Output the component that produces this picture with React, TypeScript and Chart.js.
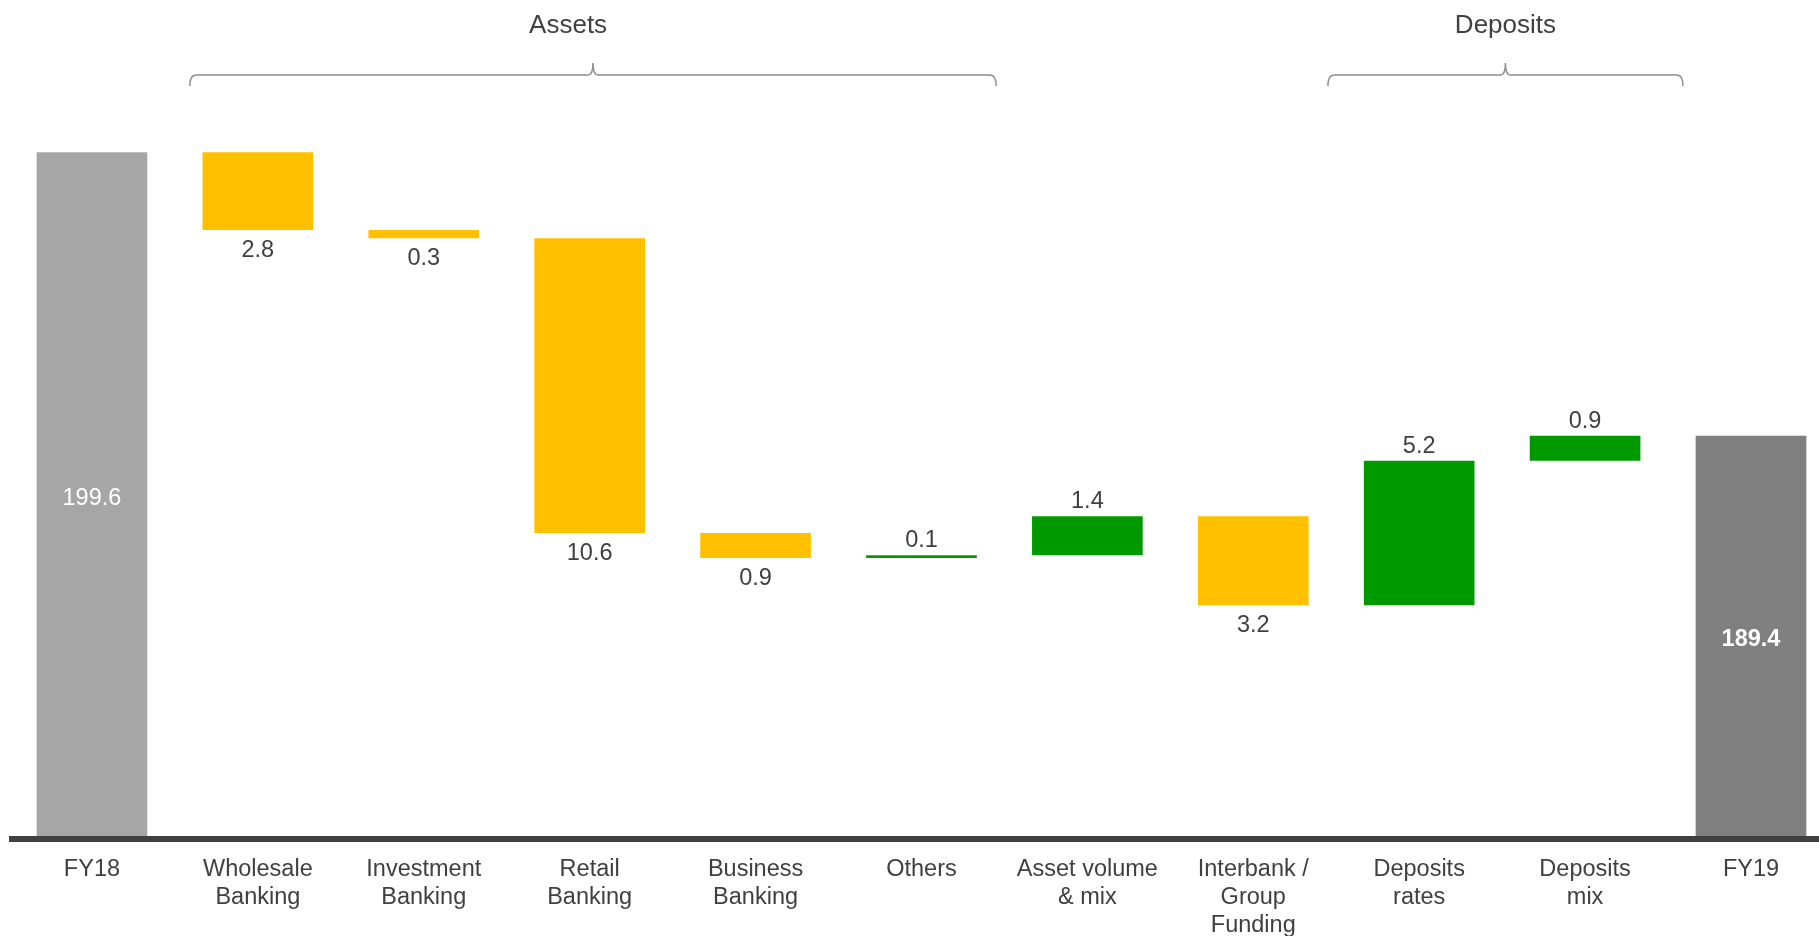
import React, { useEffect, useRef } from 'react';
import { Chart, registerables } from 'chart.js';

Chart.register(...registerables);

const categories: string[][] = [
  ['FY18'],
  ['Wholesale', 'Banking'],
  ['Investment', 'Banking'],
  ['Retail', 'Banking'],
  ['Business', 'Banking'],
  ['Others'],
  ['Asset volume', '& mix'],
  ['Interbank /', 'Group', 'Funding'],
  ['Deposits', 'rates'],
  ['Deposits', 'mix'],
  ['FY19'],
];
const startTotal = 199.6;
const endTotal = 189.4;
const changes = [-2.8, -0.3, -10.6, -0.9, 0.1, 1.4, -3.2, 5.2, 0.9];
const groupLabels = ['Assets', 'Deposits'];
const groupFirst = [1, 8];
const groupLast = [5, 9];
const axisMin = 175;
const axisMax = 201.62;

const FONT = '"Liberation Sans", Arial, sans-serif';
const TEXT = '#404040';

function buildRanges(): number[][] {
  const out: number[][] = [[axisMin, startTotal]];
  let run = startTotal;
  changes.forEach((d) => {
    const next = Math.round((run + d) * 10) / 10;
    out.push([run, next]);
    run = next;
  });
  out.push([axisMin, endTotal]);
  return out;
}

const labelsPlugin = {
  id: 'wfLabels',
  afterDatasetsDraw(chart: any) {
    const ctx = chart.ctx;
    const meta = chart.getDatasetMeta(0);
    const area = chart.chartArea;
    ctx.save();
    // axis line
    ctx.fillStyle = '#404040';
    ctx.fillRect(area.left, area.bottom, area.right - area.left, 6);
    ctx.textAlign = 'center';
    meta.data.forEach((el: any, i: number) => {
      const top = Math.min(el.y, el.base);
      const bottom = Math.max(el.y, el.base);
      if (i === 0 || i === meta.data.length - 1) {
        const v = i === 0 ? startTotal : endTotal;
        ctx.fillStyle = '#ffffff';
        ctx.font = `${i === 0 ? 'normal' : 'bold'} 23.5px ${FONT}`;
        ctx.textBaseline = 'middle';
        ctx.fillText(v.toFixed(1), el.x, (top + bottom) / 2 + 4);
      } else {
        const d = changes[i - 1];
        ctx.fillStyle = TEXT;
        ctx.font = `23.5px ${FONT}`;
        ctx.textBaseline = 'alphabetic';
        if (d < 0) ctx.fillText(Math.abs(d).toFixed(1), el.x, bottom + 27);
        else ctx.fillText(Math.abs(d).toFixed(1), el.x, top - 8);
      }
    });
    ctx.restore();
  },
};

const bracketPlugin = {
  id: 'brackets',
  afterDraw(chart: any) {
    const ctx = chart.ctx;
    const xs = chart.scales.x;
    const pads = [[0.41, 0.45], [0.55, 0.59]];
    const textShift = [-0.15, 0];
    ctx.save();
    groupLabels.forEach((lab, g) => {
      const x0 = xs.getPixelForValue(groupFirst[g] - pads[g][0]);
      const x1 = xs.getPixelForValue(groupLast[g] + pads[g][1]);
      const xc = (x0 + x1) / 2;
      const yl = 75;
      const yh = 86;
      const yp = 63;
      ctx.strokeStyle = '#8c8c8c';
      ctx.lineWidth = 1.5;
      ctx.beginPath();
      ctx.moveTo(x0, yh);
      ctx.quadraticCurveTo(x0, yl, x0 + 6, yl);
      ctx.lineTo(xc - 5, yl);
      ctx.quadraticCurveTo(xc, yl, xc, yp);
      ctx.quadraticCurveTo(xc, yl, xc + 5, yl);
      ctx.lineTo(x1 - 6, yl);
      ctx.quadraticCurveTo(x1, yl, x1, yh);
      ctx.stroke();
      ctx.fillStyle = TEXT;
      ctx.font = `26px ${FONT}`;
      ctx.textAlign = 'center';
      ctx.textBaseline = 'alphabetic';
      const tx = xs.getPixelForValue((groupFirst[g] - pads[g][0] + groupLast[g] + pads[g][1]) / 2 + textShift[g]);
      ctx.fillText(lab, tx, 33);
    });
    ctx.restore();
  },
};

export default function App() {
  const ref = useRef<HTMLCanvasElement | null>(null);
  useEffect(() => {
    if (!ref.current) return;
    const ranges = buildRanges();
    const colors = ranges.map((_, i) => {
      if (i === 0) return '#A6A6A6';
      if (i === ranges.length - 1) return '#808080';
      return changes[i - 1] < 0 ? '#FFC000' : '#009A00';
    });
    const chart = new Chart(ref.current, {
      type: 'bar',
      data: {
        datasets: [
          {
            data: ranges.map((r, i) => ({ x: i, y: r })) as any,
            backgroundColor: colors,
            borderWidth: 0,
            barPercentage: 0.667,
            categoryPercentage: 1,
          },
        ],
      },
      options: {
        animation: false,
        responsive: false,
        layout: { padding: { top: 96, left: 9, right: 0, bottom: 0 } },
        plugins: { legend: { display: false }, tooltip: { enabled: false } },
        scales: {
          x: {
            type: 'linear',
            offset: false,
            min: -0.5,
            max: 10.41,
            grid: { display: false },
            border: { display: false },
            afterBuildTicks: (s: any) => {
              s.ticks = categories.map((_, i) => ({ value: i }));
            },
            afterFit: (s: any) => {
              s.height = 100;
            },
            ticks: {
              padding: 11,
              color: TEXT,
              autoSkip: false,
              maxRotation: 0,
              font: { family: FONT, size: 23.5, lineHeight: 1.2 },
              callback: (v: any) => categories[v] ?? '',
            },
          },
          y: { display: false, min: axisMin, max: axisMax },
        },
      },
      plugins: [labelsPlugin, bracketPlugin],
    });
    return () => chart.destroy();
  }, []);
  return (
    <div style={{ position: 'fixed', top: 0, left: 0, width: 1819, height: 936, background: '#fff' }}>
      <canvas ref={ref} width={1819} height={936} style={{ display: 'block' }} />
    </div>
  );
}
